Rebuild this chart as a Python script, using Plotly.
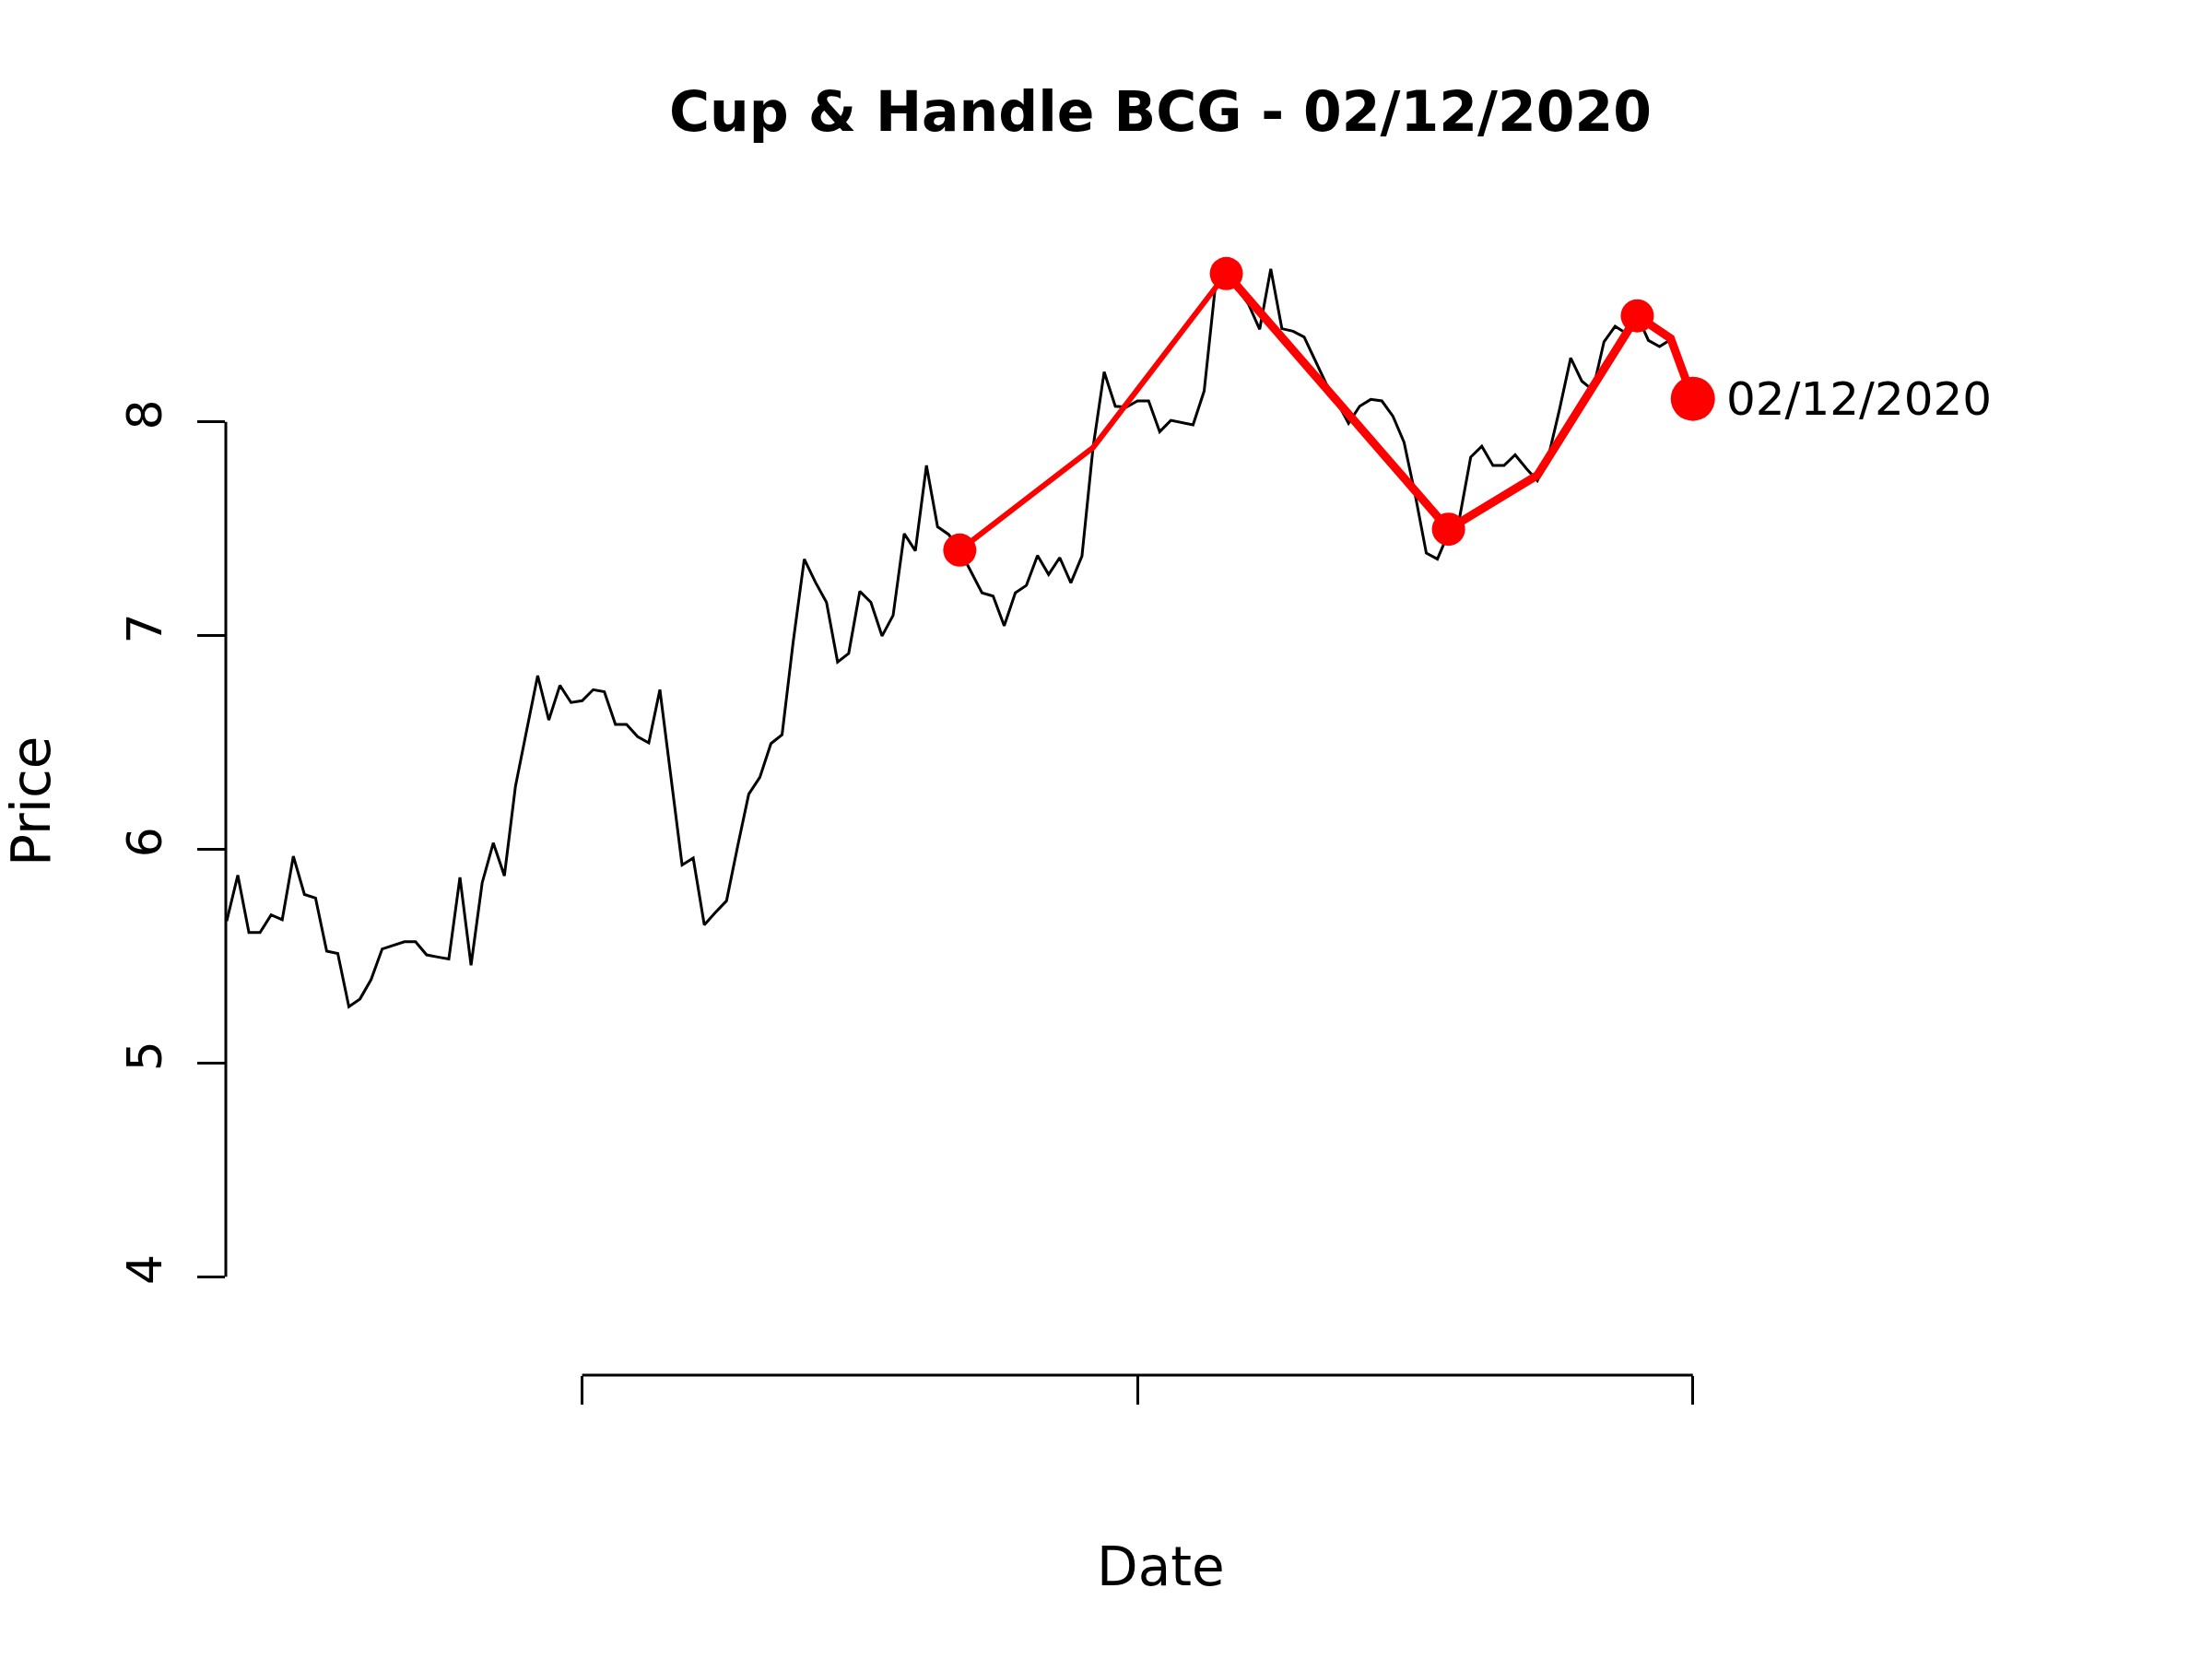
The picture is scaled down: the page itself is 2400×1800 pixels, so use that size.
import plotly.graph_objects as go

# ---- data ----
day_index = list(range(1, 134))
close_price = [
    5.664, 5.879, 5.611, 5.611, 5.693, 5.671, 5.968, 5.789, 5.772, 5.524,
    5.513, 5.264, 5.300, 5.391, 5.534, 5.552, 5.568, 5.568, 5.506, 5.496,
    5.487, 5.869, 5.458, 5.843, 6.030, 5.876, 6.296, 6.555, 6.813, 6.605,
    6.767, 6.687, 6.695, 6.747, 6.737, 6.584, 6.584, 6.527, 6.498, 6.747,
    6.349, 5.927, 5.959, 5.647, 5.705, 5.759, 6.014, 6.258, 6.337, 6.495,
    6.536, 6.970, 7.358, 7.250, 7.156, 6.876, 6.917, 7.207, 7.156, 6.998,
    7.095, 7.477, 7.397, 7.796, 7.509, 7.473, 7.400, 7.303, 7.200, 7.185,
    7.046, 7.200, 7.235, 7.375, 7.286, 7.365, 7.247, 7.372, 7.880, 8.234,
    8.073, 8.069, 8.098, 8.098, 7.954, 8.007, 7.997, 7.986, 8.144, 8.630,
    8.694, 8.620, 8.550, 8.433, 8.716, 8.436, 8.424, 8.397, 8.285, 8.177,
    8.090, 7.993, 8.073, 8.105, 8.098, 8.026, 7.904, 7.659, 7.386, 7.358,
    7.480, 7.552, 7.835, 7.886, 7.796, 7.796, 7.846, 7.782, 7.725, 7.839,
    8.060, 8.299, 8.191, 8.148, 8.375, 8.447, 8.414, 8.496, 8.381, 8.352,
    8.385, 8.263, 8.108,
]

cup_x = [67, 79, 91]
cup_y = [7.40, 7.88, 8.694]
handle_x = [91, 111, 119, 128, 131, 133]
handle_y = [8.694, 7.498, 7.75, 8.496, 8.39, 8.108]
dot_x = [67, 91, 111, 128, 133]
dot_y = [7.40, 8.694, 7.498, 8.496, 8.108]
dot_size = [36, 36, 36, 36, 48]

y_ticks = [4, 5, 6, 7, 8]
x_ticks = [33, 83, 133]
title_text = "Cup & Handle BCG - 02/12/2020"
end_label = "02/12/2020"

FONT = "DejaVu Sans"

fig = go.Figure()
fig.add_trace(go.Scatter(x=day_index, y=close_price, mode="lines",
                         line=dict(color="black", width=3), showlegend=False,
                         hoverinfo="skip"))
fig.add_trace(go.Scatter(x=cup_x, y=cup_y, mode="lines",
                         line=dict(color="#FF0000", width=6), showlegend=False))
fig.add_trace(go.Scatter(x=handle_x, y=handle_y, mode="lines",
                         line=dict(color="#FF0000", width=9), showlegend=False))
fig.add_trace(go.Scatter(x=dot_x, y=dot_y, mode="markers", opacity=1,
                         marker=dict(color="#FF0000", size=dot_size, opacity=1,
                                     line=dict(width=0)),
                         showlegend=False))

fig.add_annotation(x=dot_x[-1], y=dot_y[-1], xref="x", yref="y", text=end_label,
                   showarrow=False, xanchor="left", yanchor="middle", xshift=34,
                   font=dict(family=FONT, size=50, color="black"))

# axis titles
fig.add_annotation(x=0.5, y=0, xref="paper", yref="paper", text="Date",
                   showarrow=False, xanchor="center", yanchor="middle", yshift=-208,
                   font=dict(family=FONT, size=58, color="black"))
fig.add_annotation(x=0, y=0.5, xref="paper", yref="paper", text="Price",
                   showarrow=False, xanchor="center", yanchor="middle", xshift=-211,
                   textangle=-90, font=dict(family=FONT, size=58, color="black"))

# partial axis lines (R style)
fig.add_shape(type="line", xref="x", yref="paper", x0=x_ticks[0], x1=x_ticks[-1],
              y0=0, y1=0, line=dict(color="black", width=3))
fig.add_shape(type="line", xref="paper", yref="y", x0=0, x1=0,
              y0=y_ticks[0], y1=y_ticks[-1], line=dict(color="black", width=3))

fig.update_layout(
    width=2400, height=1800,
    margin=dict(l=245, r=127, t=246, b=308),
    paper_bgcolor="white", plot_bgcolor="white",
    font=dict(family=FONT, color="black"),
    title=dict(text="<b>" + title_text + "</b>", x=0.5, xref="paper",
               y=1 - 121 / 1800, yref="container", xanchor="center", yanchor="middle",
               font=dict(family=FONT, size=60, color="black")),
    xaxis=dict(range=[0.92, 169.2], showgrid=False, zeroline=False, showline=False,
               tickmode="array", tickvals=x_ticks, showticklabels=False,
               ticks="outside", ticklen=31, tickwidth=3, tickcolor="black"),
    yaxis=dict(range=[3.540, 8.913], showgrid=False, zeroline=False, showline=False,
               tickmode="array", tickvals=y_ticks, ticktext=[str(v) for v in y_ticks],
               ticks="outside", ticklen=30, tickwidth=3, tickcolor="black",
               tickangle=-90, ticklabelstandoff=18,
               tickfont=dict(family=FONT, size=52, color="black")),
)

fig.write_html("out.html", config={"displayModeBar": False},
               post_script="document.body.style.margin='0';document.body.style.padding='0';")
